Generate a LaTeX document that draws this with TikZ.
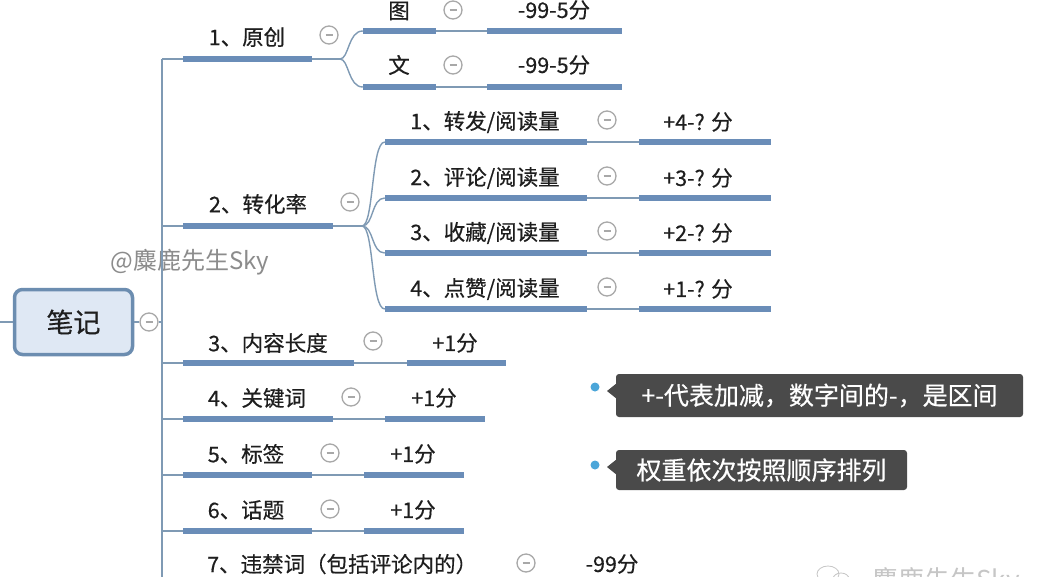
\documentclass[tikz,border=0pt]{standalone}
\usepackage{fontspec}
\setmainfont{Noto Sans CJK SC}
\newfontfamily\lblfont[FakeBold=0.5]{Noto Sans CJK SC}
\usetikzlibrary{calc}
\definecolor{barc}{HTML}{6A8DB8}
\definecolor{linec}{HTML}{7F9AB4}
\definecolor{circc}{HTML}{A8A8A8}
\definecolor{boxc}{HTML}{4A4A4A}
\definecolor{dotc}{HTML}{4BA6D9}
\definecolor{rootfill}{HTML}{DFE8F4}
\definecolor{rootdraw}{HTML}{6C8DB0}
\definecolor{txtc}{HTML}{1E1E1E}
\definecolor{wmc}{HTML}{8C8C8C}
\newcommand\mmbar[4]{\node[bar, minimum width={#3-#2}] (#1) at ({(#2+#3)/2},#4) {};}
\begin{document}
\begin{tikzpicture}[x=1pt,y=-1pt,
  bar/.style={rectangle, fill=barc, minimum height=5.5, inner sep=0},
  conn/.style={draw=linec, line width=1.4},
  lbl/.style={inner sep=0, text=txtc, font=\lblfont\fontsize{21.5}{26}\selectfont},
  coll/.style={circle, draw=circc, line width=1.3, minimum size=18, inner sep=0,
    path picture={\draw[circc, line width=1.3] ([xshift=-3.5pt]path picture bounding box.center) -- ([xshift=3.5pt]path picture bounding box.center);}},
  root/.style={rectangle, rounded corners=8, draw=rootdraw, line width=3.5, fill=rootfill, minimum width=118, minimum height=65, font=\lblfont\fontsize{27}{30}\selectfont, text=txtc},
  callout/.style={rectangle, rounded corners=3, fill=boxc, text=white, inner sep=0, font=\lblfont\fontsize{25}{30}\selectfont},
  dotn/.style={circle, fill=dotc, minimum size=9, inner sep=0},
  wm/.style={inner sep=0, text=wmc, font=\fontsize{24}{28}\selectfont}
]
\useasboundingbox[fill=white] (0,0) rectangle (1040,576);

% watermark
\node[wm] (wm1) at (190,262) {@麋鹿先生Sky};

% trunk
\coordinate (tr) at (162,59);
\coordinate (trb) at (162,600);
\draw[conn] (tr) -- (trb);

% root
\node[root] (root) at (73.5,322) {笔记};
\coordinate (lft) at (0,322);
\node[coll] (rc) at (149,322) {};
\draw[conn] (lft) -- (root);
\draw[conn] (root) -- (rc);
\draw[conn] (rc) -- (rc -| tr);

% branch 1
\mmbar{b1}{183}{312}{59}
\node[lbl] (l1) at (247,37) {1、原创};
\node[coll] (c1) at (329,35) {};
\coordinate (j1) at (340,59);
\draw[conn] (b1.west -| tr) -- (b1.west);
\draw[conn] (b1.east) -- (j1);
\mmbar{b11}{363}{436}{31}
\node[lbl] (l11) at (399,11) {图};
\node[coll] (c11) at (453,10) {};
\mmbar{v11}{487}{622}{31}
\node[lbl] (t11) at (554,10) {-99-5分};
\mmbar{b12}{363}{436}{87}
\node[lbl] (l12) at (399,65) {文};
\node[coll] (c12) at (453,65) {};
\mmbar{v12}{487}{622}{87}
\node[lbl] (t12) at (554,65) {-99-5分};
\draw[conn] (j1) .. controls (349,59) and (348,31) .. (b11.west);
\draw[conn] (j1) .. controls (349,59) and (348,87) .. (b12.west);
\draw[conn] (b11.east) -- (v11.west);
\draw[conn] (b12.east) -- (v12.west);

% branch 2
\mmbar{b2}{183}{333}{226}
\node[lbl] (l2) at (258,204) {2、转化率};
\node[coll] (c2) at (350,202) {};
\coordinate (j2) at (362,226);
\draw[conn] (b2.west -| tr) -- (b2.west);
\draw[conn] (b2.east) -- (j2);
\foreach \i/\y/\txt/\val in {1/142/{1、转发/阅读量}/{+4-? 分}, 2/198/{2、评论/阅读量}/{+3-? 分}, 3/253/{3、收藏/阅读量}/{+2-? 分}, 4/309/{4、点赞/阅读量}/{+1-? 分}}{
  \mmbar{b2\i}{385}{587}{\y}
  \node[lbl] (l2\i) at (485,\y-20) {\txt};
  \node[coll] (c2\i) at (607,\y-22) {};
  \mmbar{v2\i}{639}{771}{\y}
  \node[lbl] (t2\i) at (698,\y-20) {\val};
  \draw[conn] (j2) .. controls (374,226) and (371,\y) .. (b2\i.west);
  \draw[conn] (b2\i.east) -- (v2\i.west);
}

% branch 3
\mmbar{b3}{183}{354}{363}
\node[lbl] (l3) at (268,343) {3、内容长度};
\node[coll] (c3) at (373,341) {};
\mmbar{v3}{407}{506}{363}
\node[lbl] (t3) at (455,343) {+1分};
\draw[conn] (b3.west -| tr) -- (b3.west);
\draw[conn] (b3.east) -- (v3.west);

% branch 4
\mmbar{b4}{183}{333}{419}
\node[lbl] (l4) at (257,398) {4、关键词};
\node[coll] (c4) at (351,397) {};
\mmbar{v4}{385}{485}{419}
\node[lbl] (t4) at (434,398) {+1分};
\draw[conn] (b4.west -| tr) -- (b4.west);
\draw[conn] (b4.east) -- (v4.west);

% branch 5
\mmbar{b5}{183}{312}{475}
\node[lbl] (l5) at (246,454) {5、标签};
\node[coll] (c5) at (330,453) {};
\mmbar{v5}{364}{464}{475}
\node[lbl] (t5) at (413,454) {+1分};
\draw[conn] (b5.west -| tr) -- (b5.west);
\draw[conn] (b5.east) -- (v5.west);

% branch 6
\mmbar{b6}{183}{312}{531}
\node[lbl] (l6) at (246,510) {6、话题};
\node[coll] (c6) at (330,509) {};
\mmbar{v6}{364}{464}{531}
\node[lbl] (t6) at (413,510) {+1分};
\draw[conn] (b6.west -| tr) -- (b6.west);
\draw[conn] (b6.east) -- (v6.west);

% branch 7
\node[lbl, anchor=west] (l7) at (207,564) {7、违禁词（包括评论内的）};
\node[coll] (c7) at (526,563) {};
\node[lbl] (t7) at (612,564) {-99分};

% callouts
\node[dotn] (d1) at (595,387) {};
\node[callout, minimum width=407, minimum height=43] (box1) at (819.5,395.5) {+-代表加减，数字间的-，是区间};
\fill[boxc] (607,391) -- (617,383) -- (617,399) -- cycle;
\node[dotn] (d2) at (595,465) {};
\node[callout, minimum width=291, minimum height=40] (box2) at (761.5,470) {权重依次按照顺序排列};
\fill[boxc] (607,467) -- (617,459) -- (617,475) -- cycle;

% bottom-right watermark
\draw[gray!45, line width=0.8] (828,574) ellipse (11 and 8);
\draw[gray!45, line width=0.8] (841,579) ellipse (8 and 6);
\node[inner sep=0, anchor=west, text=gray!45, font=\fontsize{26}{30}\selectfont] (wm2) at (872,582) {麋鹿先生Sky};
\end{tikzpicture}
\end{document}
